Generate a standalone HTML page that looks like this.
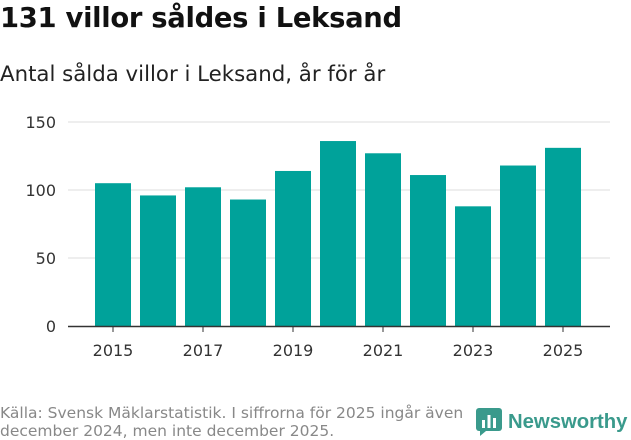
<!DOCTYPE html>
<html><head><meta charset="utf-8">
<style>
body{margin:0;width:631px;height:439px;background:#fff;font-family:"DejaVu Sans","Liberation Sans",sans-serif;overflow:hidden;position:relative}
#title{position:absolute;left:0;top:3px;font-size:27.4px;font-weight:bold;color:#111;letter-spacing:-0.3px;white-space:nowrap}
#sub{position:absolute;left:0;top:62px;font-size:21.3px;color:#222;white-space:nowrap}
#foot{position:absolute;left:0;top:404px;font-size:15.5px;color:#888;line-height:18px;white-space:nowrap}
#logo{position:absolute;left:476px;top:408px;display:flex;align-items:center;font-size:20.3px;font-weight:bold;color:#3a9a8c;font-family:"Liberation Sans",sans-serif}
</style></head><body>
<div id="title">131 villor såldes i Leksand</div>
<div id="sub">Antal sålda villor i Leksand, år för år</div>
<svg id="chart" width="631" height="439" style="position:absolute;left:0;top:0"></svg>
<div id="foot">Källa: Svensk Mäklarstatistik. I siffrorna för 2025 ingår även<br>december 2024, men inte december 2025.</div>
<div id="logo"><svg width="26" height="28" viewBox="0 0 26 28" style="margin-right:6px"><rect x="0" y="0" width="26" height="23" rx="3" fill="#3a9a8c"/><path d="M4 23 L4 28 L10 23 Z" fill="#3a9a8c"/><rect x="6" y="12" width="3" height="8" fill="#fff"/><rect x="11.5" y="7" width="3" height="13" fill="#fff"/><rect x="17" y="10" width="3" height="10" fill="#fff"/></svg>Newsworthy</div>
<script>
const years=[2015,2016,2017,2018,2019,2020,2021,2022,2023,2024,2025];
const values=[105,96,102,93,114,136,127,111,88,118,131];
const yTicks=[0,50,100,150];
const xTickYears=[2015,2017,2019,2021,2023,2025];
const NS="http://www.w3.org/2000/svg";
const svg=document.getElementById('chart');
const y0=326,yScale=v=>y0-v*(204/150);
const x=i=>113+i*45;
const bw=36;
const FF='DejaVu Sans, Liberation Sans, sans-serif';
function mk(t,a){const e=document.createElementNS(NS,t);for(const k in a)e.setAttribute(k,a[k]);svg.appendChild(e);return e;}
yTicks.forEach(v=>{
  if(v>0){const g=mk('line',{x1:68,x2:610,y1:yScale(v),y2:yScale(v),stroke:'#ddd','stroke-width':1});
  
  }
  const t=mk('text',{x:56,y:yScale(v)+6,'text-anchor':'end','font-size':16,fill:'#333','font-family':FF});
  t.textContent=v;
  
  
});
years.forEach((yr,i)=>{
  const r=mk('rect',{x:x(i)-bw/2,y:yScale(values[i]),width:bw,height:y0-yScale(values[i]),fill:'#00a29a'});
  
  
});
const ax=mk('line',{x1:68,x2:610,y1:y0+0.5,y2:y0+0.5,stroke:'#333','stroke-width':1.5});


xTickYears.forEach(yr=>{
  const i=years.indexOf(yr);
  const tk=mk('line',{x1:x(i),x2:x(i),y1:y0,y2:y0+6,stroke:'#333'});
  
  
  const t=mk('text',{x:x(i),y:356,'text-anchor':'middle','font-size':16,fill:'#333','font-family':FF});
  t.textContent=yr;
  
  
});
</script>
</body></html>
